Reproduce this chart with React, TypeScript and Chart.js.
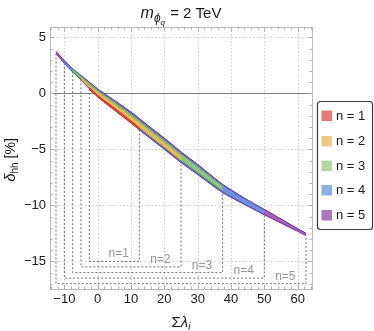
import React, { useEffect, useRef } from 'react';
import { Chart, registerables } from 'chart.js';

Chart.register(...registerables);

// ---- data ----
const seriesNames = ['n = 1', 'n = 2', 'n = 3', 'n = 4', 'n = 5'];
const boxNames = ['n=1', 'n=2', 'n=3', 'n=4', 'n=5'];

const n1X = [-2.5, 0, 5, 10, 12.5];
const n1High = [0.52, -0.18, -1.33, -2.48, -3.1];
const n1Low = [0.38, -0.32, -1.49, -2.65, -3.27];

const n2X = [-5, -2.5, 0, 5, 10, 12.5, 15, 20, 25];
const n2High = [1.39, 0.72, 0.09, -0.98, -2.06, -2.65, -3.25, -4.4, -5.61];
const n2Low = [1.25, 0.52, -0.15, -1.28, -2.4, -3.01, -3.61, -4.76, -5.95];

const n3X = [-7.5, -5, -2.5, 0, 5, 10, 12.5, 15, 20, 25, 30, 35, 37.5];
const n3High = [2.13, 1.51, 0.87, 0.25, -0.81, -1.88, -2.47, -3.07, -4.22, -5.43, -6.55, -7.73, -8.29];
const n3Low = [1.97, 1.29, 0.53, -0.15, -1.29, -2.42, -3.03, -3.63, -4.78, -5.97, -7.05, -8.17, -8.71];

const n4X = [-10, -7.5, -5, -2.5, 0, 5, 10, 12.5, 15, 20, 25, 30, 35, 37.5, 40, 45, 50];
const n4High = [2.89, 2.17, 1.56, 0.93, 0.32, -0.72, -1.78, -2.36, -2.96, -4.11, -5.33, -6.45, -7.64, -8.21, -8.68, -9.58, -10.41];
const n4Low = [2.71, 1.93, 1.24, 0.47, -0.22, -1.38, -2.52, -3.14, -3.74, -4.89, -6.07, -7.15, -8.26, -8.79, -9.22, -10.02, -10.79];

const n5X = [-12.5, -10, -7.5, -5, -2.5, 0, 5, 10, 12.5, 15, 20, 25, 30, 35, 37.5, 40, 45, 50, 55, 60, 62.5];
const n5High = [3.75, 2.92, 2.2, 1.6, 1.0, 0.4, -0.63, -1.67, -2.25, -2.85, -4.0, -5.22, -6.35, -7.55, -8.13, -8.61, -9.52, -10.36, -11.22, -12.08, -12.5];
const n5Low = [3.55, 2.68, 1.9, 1.2, 0.4, -0.3, -1.47, -2.63, -3.25, -3.85, -5.0, -6.18, -7.25, -8.35, -8.87, -9.29, -10.08, -10.84, -11.58, -12.32, -12.7];

const boxLeft = [-2.5, -5, -7.5, -10, -12.5];
const boxRight = [12.5, 25, 37.5, 50, 62.5];
const boxBottom = [-15, -15.5, -16, -16.5, -17];
const labelX = [6.3, 18.8, 31.3, 43.8, 56.3];
const labelY = [-14.35, -14.85, -15.35, -15.85, -16.35];

const xTicks = [-10, 0, 10, 20, 30, 40, 50, 60];
const yTicks = [-15, -10, -5, 0, 5];

const fillColors = ['rgba(232,100,100,0.9)', 'rgba(236,192,90,0.9)', 'rgba(150,205,120,0.88)', 'rgba(110,150,225,0.88)', 'rgba(150,80,178,0.88)'];
const lineColors = ['rgb(215,30,30)', 'rgb(228,165,45)', 'rgb(100,182,80)', 'rgb(70,110,212)', 'rgb(120,30,150)'];
const swatchColors = ['#E8777A', '#EACB85', '#B3D7A0', '#8CAEE3', '#AD77BE'];

const FONT = '"Liberation Sans", Arial, Helvetica, sans-serif';

const bandX = [n1X, n2X, n3X, n4X, n5X];
const bandHigh = [n1High, n2High, n3High, n4High, n5High];
const bandLow = [n1Low, n2Low, n3Low, n4Low, n5Low];

function pts(xa: number[], ya: number[]) {
  return xa.map((x, i) => ({ x, y: ya[i] }));
}

const minus = (v: number) => (v < 0 ? '\u2212' + Math.abs(v) : String(v));

const decorPlugin = {
  id: 'decor',
  beforeDatasetsDraw(chart: any) {
    const { ctx, chartArea: a, scales } = chart;
    const xs = scales.x, ys = scales.y;
    ctx.save();
    ctx.strokeStyle = 'rgb(205,205,205)';
    ctx.lineWidth = 1;
    ctx.setLineDash([1.5, 2]);
    xTicks.forEach((v) => {
      const px = Math.round(xs.getPixelForValue(v)) + 0.5;
      ctx.beginPath(); ctx.moveTo(px, a.top); ctx.lineTo(px, a.bottom); ctx.stroke();
    });
    yTicks.forEach((v) => {
      if (v === 0) return;
      const py = Math.round(ys.getPixelForValue(v)) + 0.5;
      ctx.beginPath(); ctx.moveTo(a.left, py); ctx.lineTo(a.right, py); ctx.stroke();
    });
    ctx.setLineDash([]);
    const zy = Math.round(ys.getPixelForValue(0)) + 0.5;
    ctx.strokeStyle = 'rgb(125,125,125)';
    ctx.beginPath(); ctx.moveTo(a.left, zy); ctx.lineTo(a.right, zy); ctx.stroke();
    ctx.strokeStyle = 'rgb(185,185,185)';
    ctx.strokeRect(Math.round(a.left) + 0.5, Math.round(a.top) + 0.5, Math.round(a.right - a.left), Math.round(a.bottom - a.top));
    ctx.strokeStyle = 'rgb(175,175,175)';
    for (let v = -14; v <= 64; v += 2) {
      const px = Math.round(xs.getPixelForValue(v)) + 0.5;
      const len = v % 10 === 0 ? 4 : 2.5;
      ctx.beginPath();
      ctx.moveTo(px, a.bottom); ctx.lineTo(px, a.bottom - len);
      ctx.moveTo(px, a.top); ctx.lineTo(px, a.top + len);
      ctx.stroke();
    }
    for (let v = -17; v <= 5; v += 1) {
      const py = Math.round(ys.getPixelForValue(v)) + 0.5;
      const len = v % 5 === 0 ? 4 : 2.5;
      ctx.beginPath();
      ctx.moveTo(a.left, py); ctx.lineTo(a.left + len, py);
      ctx.moveTo(a.right, py); ctx.lineTo(a.right - len, py);
      ctx.stroke();
    }
    ctx.restore();
  },
  afterDraw(chart: any) {
    const { ctx, chartArea: a, scales } = chart;
    const xs = scales.x, ys = scales.y;
    ctx.save();
    ctx.fillStyle = 'rgb(150,150,150)';
    ctx.font = `12px ${FONT}`;
    ctx.textAlign = 'center';
    ctx.textBaseline = 'middle';
    boxNames.forEach((t, i) => {
      ctx.fillText(t, xs.getPixelForValue(labelX[i]), ys.getPixelForValue(labelY[i]));
    });
    ctx.textAlign = 'left';
    ctx.textBaseline = 'alphabetic';
    ctx.fillStyle = '#1a1a1a';
    // title
    const cx = (a.left + a.right) / 2;
    const f1 = `italic 16px ${FONT}`, f2 = `italic 12px ${FONT}`, f3 = `italic 8px ${FONT}`, f4 = `15px ${FONT}`;
    ctx.font = f1; const w1 = ctx.measureText('m').width;
    ctx.font = f2; const w2 = ctx.measureText('\u03D5').width;
    ctx.font = f3; const w3 = ctx.measureText('q').width;
    ctx.font = f4; const w4 = ctx.measureText(' = 2 TeV').width;
    let tx = cx - (w1 + w2 + w3 + w4 + 1) / 2;
    const tb = 18;
    ctx.font = f1; ctx.fillText('m', tx, tb); tx += w1;
    ctx.font = f2; ctx.fillText('\u03D5', tx, tb + 4); tx += w2;
    ctx.font = f3; ctx.fillText('q', tx, tb + 7); tx += w3 + 1;
    ctx.font = f4; ctx.fillText(' = 2 TeV', tx, tb);
    // x label
    const g1 = `15px ${FONT}`, g2 = `italic 15px ${FONT}`, g3 = `italic 10px ${FONT}`;
    ctx.font = g1; const v1 = ctx.measureText('\u03A3').width;
    ctx.font = g2; const v2 = ctx.measureText('\u03BB').width;
    ctx.font = g3; const v3 = ctx.measureText('i').width;
    let lx = cx - (v1 + v2 + v3) / 2;
    const lb = 326.5;
    ctx.font = g1; ctx.fillText('\u03A3', lx, lb); lx += v1;
    ctx.font = g2; ctx.fillText('\u03BB', lx, lb); lx += v2;
    ctx.font = g3; ctx.fillText('i', lx, lb + 3);
    // y label
    ctx.save();
    ctx.translate(14.5, (a.top + a.bottom) / 2 + 2);
    ctx.rotate(-Math.PI / 2);
    const h1 = `italic 15px ${FONT}`, h2 = `10px ${FONT}`, h3 = `14px ${FONT}`;
    ctx.font = h1; const u1 = ctx.measureText('\u03B4').width;
    ctx.font = h2; const u2 = ctx.measureText('hh').width;
    ctx.font = h3; const u3 = ctx.measureText(' [%]').width;
    let yx = -(u1 + u2 + u3) / 2;
    ctx.font = h1; ctx.fillText('\u03B4', yx, 0); yx += u1;
    ctx.font = h2; ctx.fillText('hh', yx, 3); yx += u2;
    ctx.font = h3; ctx.fillText(' [%]', yx, 0);
    ctx.restore();
    // legend
    const L = 317, T = 101, R = 373, B = 229.5, r = 3;
    ctx.fillStyle = '#ffffff';
    ctx.strokeStyle = 'rgb(60,60,60)';
    ctx.lineWidth = 1.2;
    ctx.beginPath();
    ctx.moveTo(L + 0.5 + r, T + 0.5);
    ctx.arcTo(R - 0.5, T + 0.5, R - 0.5, B, r);
    ctx.arcTo(R - 0.5, B, L + 0.5, B, r);
    ctx.arcTo(L + 0.5, B, L + 0.5, T + 0.5, r);
    ctx.arcTo(L + 0.5, T + 0.5, R - 0.5, T + 0.5, r);
    ctx.closePath();
    ctx.fill();
    ctx.stroke();
    const rows = [115.5, 141, 165.5, 190, 215];
    ctx.font = `13px ${FONT}`;
    ctx.textBaseline = 'middle';
    seriesNames.forEach((t, i) => {
      ctx.fillStyle = swatchColors[i];
      ctx.fillRect(321.5, rows[i] - 5, 10.5, 10.5);
      ctx.fillStyle = '#1a1a1a';
      ctx.fillText(t, 336, rows[i] + 0.5);
    });
    ctx.restore();
  },
};

export default function App() {
  const ref = useRef<HTMLCanvasElement | null>(null);
  useEffect(() => {
    document.body.style.margin = '0';
    const canvas = ref.current!;
    const datasets: any[] = [];
    for (let i = 0; i < 5; i++) {
      datasets.push({
        label: seriesNames[i] + ' low',
        data: pts(bandX[i], bandLow[i]),
        borderColor: lineColors[i],
        borderWidth: 1,
        pointRadius: 0,
        fill: false,
        cubicInterpolationMode: 'monotone',
        order: i,
      });
      datasets.push({
        label: seriesNames[i],
        data: pts(bandX[i], bandHigh[i]),
        borderColor: lineColors[i],
        backgroundColor: fillColors[i],
        borderWidth: 1,
        pointRadius: 0,
        fill: '-1',
        cubicInterpolationMode: 'monotone',
        order: i,
      });
    }
    for (let i = 0; i < 5; i++) {
      const lo = bandLow[i];
      datasets.push({
        label: boxNames[i] + ' box',
        data: [
          { x: boxLeft[i], y: lo[0] },
          { x: boxLeft[i], y: boxBottom[i] },
          { x: boxRight[i], y: boxBottom[i] },
          { x: boxRight[i], y: lo[lo.length - 1] },
        ],
        borderColor: 'rgb(110,110,110)',
        borderWidth: 1,
        borderDash: [2, 2],
        pointRadius: 0,
        fill: false,
        tension: 0,
        order: 20,
      });
    }
    const chart = new Chart(canvas, {
      type: 'line',
      data: { datasets },
      options: {
        animation: false,
        responsive: false,
        devicePixelRatio: 1,
        layout: { padding: { top: 27, right: 62, left: 0, bottom: 0 } },
        plugins: { legend: { display: false }, title: { display: false }, tooltip: { enabled: false } },
        scales: {
          x: {
            type: 'linear',
            min: -14.3,
            max: 64.3,
            grid: { display: false, drawTicks: false },
            border: { display: false },
            afterBuildTicks: (s: any) => { s.ticks = xTicks.map((v) => ({ value: v })); },
            afterFit: (s: any) => { s.height = 42; },
            ticks: {
              padding: 3,
              color: '#1a1a1a',
              font: { family: FONT, size: 13 },
              maxRotation: 0,
              autoSkip: false,
              callback: (v: any) => minus(Number(v)),
            },
          },
          y: {
            type: 'linear',
            min: -17.47,
            max: 5.92,
            grid: { display: false, drawTicks: false },
            border: { display: false },
            afterBuildTicks: (s: any) => { s.ticks = yTicks.map((v) => ({ value: v })); },
            afterFit: (s: any) => { s.width = 50; },
            ticks: {
              padding: 4,
              color: '#1a1a1a',
              font: { family: FONT, size: 13 },
              autoSkip: false,
              callback: (v: any) => minus(Number(v)),
            },
          },
        },
      },
      plugins: [decorPlugin],
    });
    return () => chart.destroy();
  }, []);
  return (
    <div style={{ width: 374, height: 331 }}>
      <canvas ref={ref} width={374} height={331} style={{ display: 'block', width: 374, height: 331 }} />
    </div>
  );
}
